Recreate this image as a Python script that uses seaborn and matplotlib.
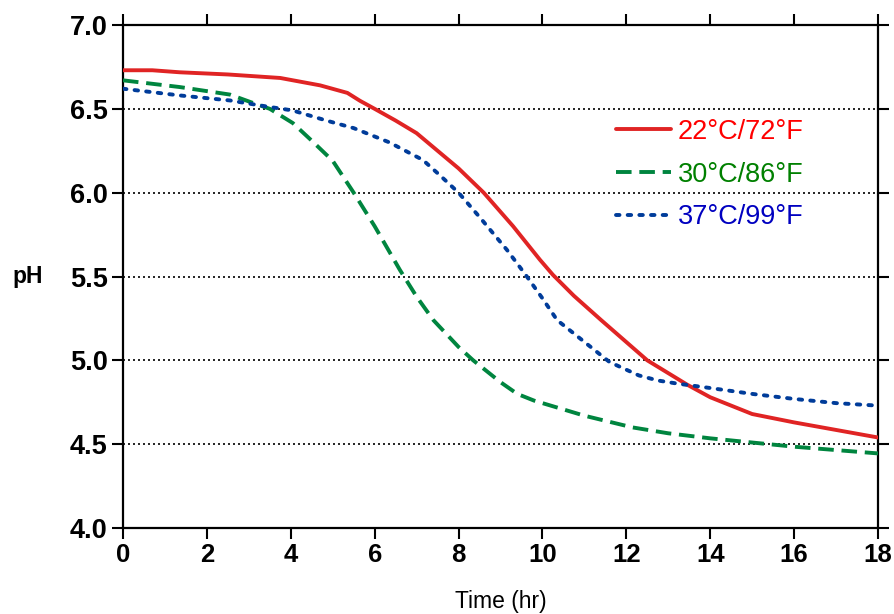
import numpy as np
import pandas as pd
import matplotlib
matplotlib.use("Agg")
import matplotlib.pyplot as plt
import seaborn as sns

# Data
time_22 = [0, 0.7, 1.35, 2.5, 3.75, 4.7, 5.35, 5.65, 6, 6.5, 7, 8, 8.6, 9.3, 9.94, 10.25, 10.75, 11.4, 12.5, 13.45, 14, 15, 16, 17, 18]
ph_22 = [6.73, 6.73, 6.718, 6.705, 6.684, 6.64, 6.595, 6.548, 6.50, 6.43, 6.355, 6.145, 6.00, 5.80, 5.60, 5.51, 5.385, 5.24, 5.00, 4.855, 4.78, 4.68, 4.63, 4.585, 4.54]

time_30 = [0, 1.35, 2.55, 3.1, 3.5, 4.05, 4.5, 5, 5.5, 6, 6.6, 7, 7.4, 8, 8.35, 9, 9.4, 9.8, 11, 12.15, 13, 14, 15, 16, 17, 18]
ph_30 = [6.67, 6.63, 6.585, 6.535, 6.50, 6.415, 6.31, 6.19, 6.00, 5.80, 5.54, 5.38, 5.24, 5.08, 5.00, 4.87, 4.80, 4.76, 4.67, 4.60, 4.565, 4.535, 4.51, 4.485, 4.465, 4.445]

time_37 = [0, 1.35, 2.55, 3.35, 4.05, 4.85, 5.5, 6.35, 7.15, 7.55, 8, 8.5, 9.15, 9.6, 10, 10.35, 11, 11.6, 12.3, 12.75, 13.2, 14, 15, 16, 17, 18]
ph_37 = [6.62, 6.58, 6.55, 6.517, 6.49, 6.43, 6.385, 6.30, 6.195, 6.105, 6.00, 5.855, 5.66, 5.51, 5.37, 5.24, 5.11, 4.99, 4.91, 4.88, 4.862, 4.835, 4.80, 4.77, 4.745, 4.73]

labels = ["22°C/72°F", "30°C/86°F", "37°C/99°F"]
colors = ["#e02424", "#00853f", "#003c9a"]
text_colors = ["#ff0000", "#008000", "#0000c0"]

x_ticks = [0, 2, 4, 6, 8, 10, 12, 14, 16, 18]
y_ticks = [4.0, 4.5, 5.0, 5.5, 6.0, 6.5, 7.0]

df = pd.concat([
    pd.DataFrame({"Time": time_22, "pH": ph_22, "Temp": labels[0]}),
    pd.DataFrame({"Time": time_30, "pH": ph_30, "Temp": labels[1]}),
    pd.DataFrame({"Time": time_37, "pH": ph_37, "Temp": labels[2]}),
])

sns.set_style("white")
plt.rcParams["font.family"] = ["Liberation Sans", "DejaVu Sans"]
plt.rcParams["text.color"] = "black"
plt.rcParams["axes.labelcolor"] = "black"
plt.rcParams["xtick.color"] = "black"
plt.rcParams["ytick.color"] = "black"

fig = plt.figure(figsize=(8.95, 6.14), dpi=100)
ax = fig.add_axes([0.1374, 0.140, 0.8436, 0.8193])

# grid lines
for yv in y_ticks[1:-1]:
    ax.axhline(yv, color="black", linestyle=(0, (1.2, 1.8)), linewidth=1.2, zorder=1)

styles = ["-", (0, (4.0, 2.0)), (0, (0.9, 2.1))]
caps = ["butt", "butt", "round"]
for lab, col, ls, cap in zip(labels, colors, styles, caps):
    sub = df[df["Temp"] == lab]
    sns.lineplot(data=sub, x="Time", y="pH", ax=ax, color=col, linewidth=2.8,
                 linestyle=ls, label=lab, zorder=3, dash_capstyle=cap,
                 solid_joinstyle="round")

ax.set_xlim(0, 18)
ax.set_ylim(4.0, 7.0)
ax.set_xticks(x_ticks)
ax.set_yticks(y_ticks)
ax.set_xticklabels([str(v) for v in x_ticks], fontsize=18.5, fontweight="bold")
ax.set_yticklabels([f"{v:.1f}" for v in y_ticks], fontsize=19.5, fontweight="bold")
ax.tick_params(axis="both", direction="out", length=8, width=1.5, colors="black",
               top=True, right=True, bottom=True, left=True, pad=3)
ax.tick_params(axis="x", labeltop=False)
ax.tick_params(axis="y", labelright=False)

for sp in ax.spines.values():
    sp.set_visible(True)
    sp.set_color("black")
    sp.set_linewidth(1.6)

ax.set_xlabel("Time (hr)", fontsize=16.5, labelpad=16, color="black")
ax.set_ylabel("pH", fontsize=16.5, fontweight="bold", rotation=0, labelpad=30,
              va="center", color="black")

leg = ax.legend(loc="upper left", bbox_to_anchor=(0.638, 0.835), frameon=False,
                fontsize=19.5, handlelength=2.05, handletextpad=0.25, labelspacing=0.62,
                borderaxespad=0)
for t, c in zip(leg.get_texts(), text_colors):
    t.set_color(c)

fig.savefig("out.png", dpi=100)
